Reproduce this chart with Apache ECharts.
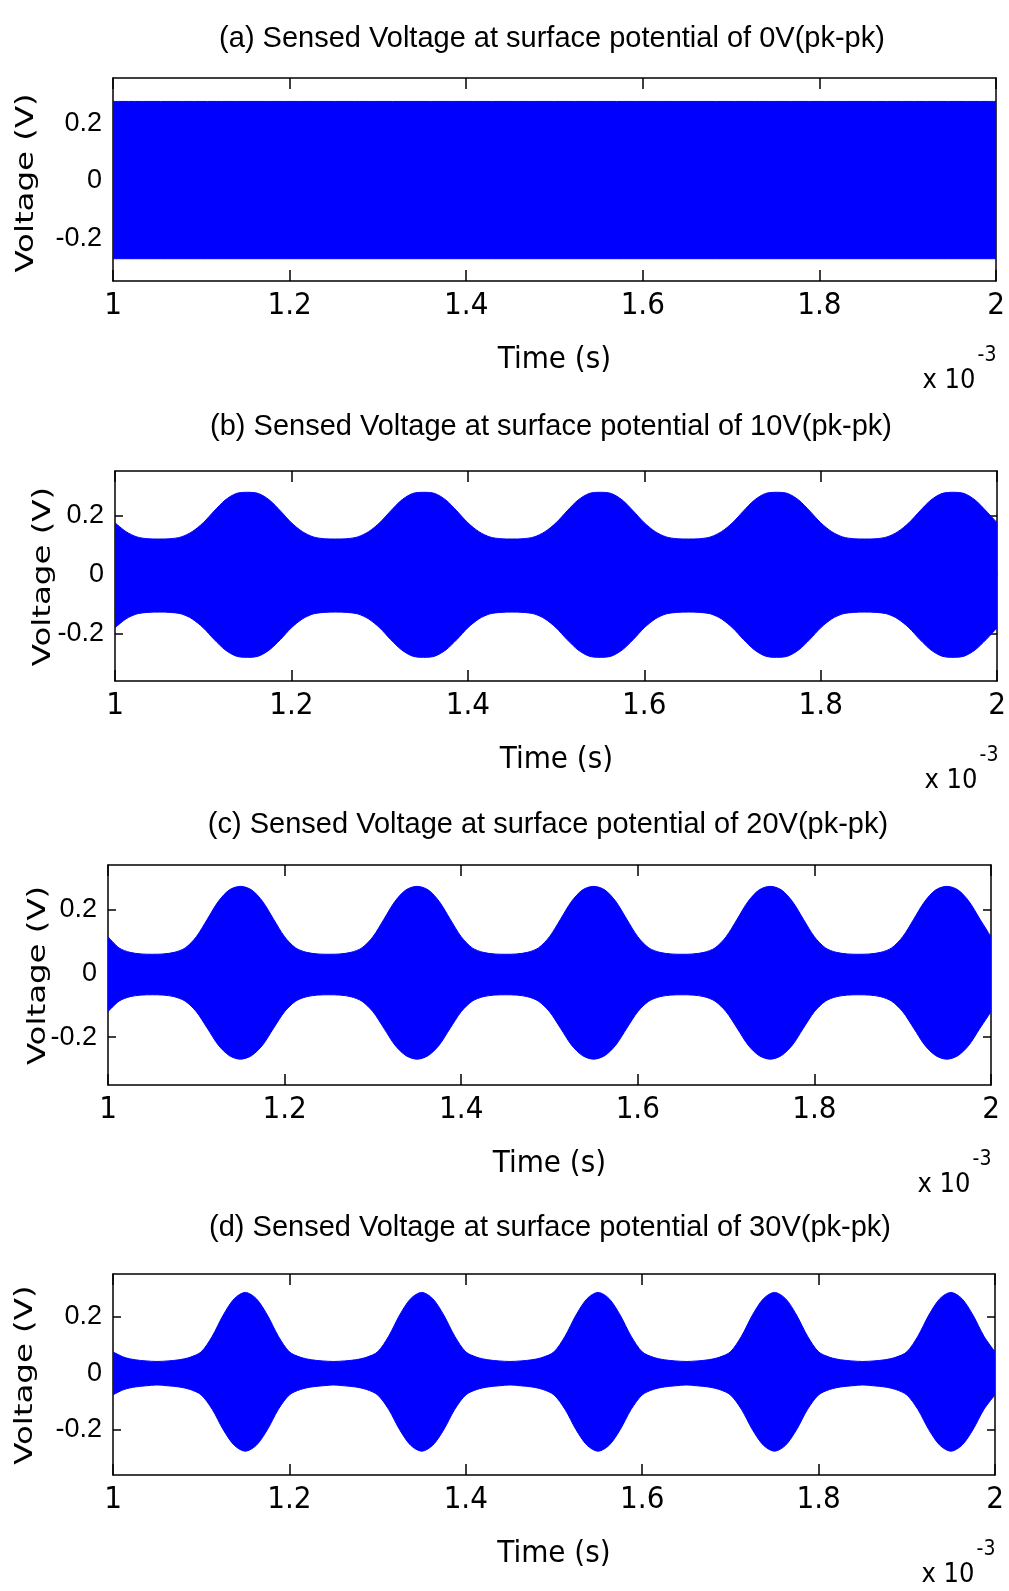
<!DOCTYPE html>
<html>
<head>
<meta charset="utf-8">
<script src="https://cdn.jsdelivr.net/npm/echarts@6.0.0/dist/echarts.min.js"></script>
<style>
  html, body { margin: 0; padding: 0; background: #fff; }
  #main { width: 1009px; height: 1591px; }
</style>
</head>
<body>
<div id="main"></div>
<script>
// time axis in units of 1e-3 s
var timeMs = [
  1, 1.0125, 1.025, 1.0375, 1.05, 1.0625, 1.075, 1.0875, 1.1, 1.1125, 1.125, 1.1375, 1.15, 1.1625, 1.175, 1.1875,
  1.2, 1.2125, 1.225, 1.2375, 1.25, 1.2625, 1.275, 1.2875, 1.3, 1.3125, 1.325, 1.3375, 1.35, 1.3625, 1.375, 1.3875,
  1.4, 1.4125, 1.425, 1.4375, 1.45, 1.4625, 1.475, 1.4875, 1.5, 1.5125, 1.525, 1.5375, 1.55, 1.5625, 1.575, 1.5875,
  1.6, 1.6125, 1.625, 1.6375, 1.65, 1.6625, 1.675, 1.6875, 1.7, 1.7125, 1.725, 1.7375, 1.75, 1.7625, 1.775, 1.7875,
  1.8, 1.8125, 1.825, 1.8375, 1.85, 1.8625, 1.875, 1.8875, 1.9, 1.9125, 1.925, 1.9375, 1.95, 1.9625, 1.975, 1.9875,
  2
];

// (a) 0V: constant envelope
var timeA = [1, 2];
var upperA = [0.278, 0.278];
var lowerA = [-0.272, -0.272];

// (b) 10V
var upperB = [
  0.175, 0.145, 0.127, 0.121, 0.12, 0.121, 0.127, 0.145, 0.175, 0.215, 0.252, 0.274, 0.278, 0.274, 0.252, 0.215,
  0.175, 0.145, 0.127, 0.121, 0.12, 0.121, 0.127, 0.145, 0.175, 0.215, 0.252, 0.274, 0.278, 0.274, 0.252, 0.215,
  0.175, 0.145, 0.127, 0.121, 0.12, 0.121, 0.127, 0.145, 0.175, 0.215, 0.252, 0.274, 0.278, 0.274, 0.252, 0.215,
  0.175, 0.145, 0.127, 0.121, 0.12, 0.121, 0.127, 0.145, 0.175, 0.215, 0.252, 0.274, 0.278, 0.274, 0.252, 0.215,
  0.175, 0.145, 0.127, 0.121, 0.12, 0.121, 0.127, 0.145, 0.175, 0.215, 0.252, 0.274, 0.278, 0.274, 0.252, 0.215,
  0.175
];
var lowerB = [
  -0.18, -0.15, -0.133, -0.128, -0.127, -0.128, -0.133, -0.15, -0.18, -0.22, -0.255, -0.276, -0.28, -0.276, -0.255, -0.22,
  -0.18, -0.15, -0.133, -0.128, -0.127, -0.128, -0.133, -0.15, -0.18, -0.22, -0.255, -0.276, -0.28, -0.276, -0.255, -0.22,
  -0.18, -0.15, -0.133, -0.128, -0.127, -0.128, -0.133, -0.15, -0.18, -0.22, -0.255, -0.276, -0.28, -0.276, -0.255, -0.22,
  -0.18, -0.15, -0.133, -0.128, -0.127, -0.128, -0.133, -0.15, -0.18, -0.22, -0.255, -0.276, -0.28, -0.276, -0.255, -0.22,
  -0.18, -0.15, -0.133, -0.128, -0.127, -0.128, -0.133, -0.15, -0.18, -0.22, -0.255, -0.276, -0.28, -0.276, -0.255, -0.22,
  -0.18
];

// (c) 20V
var upperC = [
  0.115, 0.08, 0.066, 0.061, 0.06, 0.061, 0.066, 0.08, 0.115, 0.17, 0.226, 0.262, 0.273, 0.262, 0.226, 0.17,
  0.115, 0.08, 0.066, 0.061, 0.06, 0.061, 0.066, 0.08, 0.115, 0.17, 0.226, 0.262, 0.273, 0.262, 0.226, 0.17,
  0.115, 0.08, 0.066, 0.061, 0.06, 0.061, 0.066, 0.08, 0.115, 0.17, 0.226, 0.262, 0.273, 0.262, 0.226, 0.17,
  0.115, 0.08, 0.066, 0.061, 0.06, 0.061, 0.066, 0.08, 0.115, 0.17, 0.226, 0.262, 0.273, 0.262, 0.226, 0.17,
  0.115, 0.08, 0.066, 0.061, 0.06, 0.061, 0.066, 0.08, 0.115, 0.17, 0.226, 0.262, 0.273, 0.262, 0.226, 0.17,
  0.115
];
var lowerC = [
  -0.12, -0.087, -0.073, -0.068, -0.067, -0.068, -0.073, -0.087, -0.12, -0.172, -0.225, -0.258, -0.269, -0.258, -0.225, -0.172,
  -0.12, -0.087, -0.073, -0.068, -0.067, -0.068, -0.073, -0.087, -0.12, -0.172, -0.225, -0.258, -0.269, -0.258, -0.225, -0.172,
  -0.12, -0.087, -0.073, -0.068, -0.067, -0.068, -0.073, -0.087, -0.12, -0.172, -0.225, -0.258, -0.269, -0.258, -0.225, -0.172,
  -0.12, -0.087, -0.073, -0.068, -0.067, -0.068, -0.073, -0.087, -0.12, -0.172, -0.225, -0.258, -0.269, -0.258, -0.225, -0.172,
  -0.12, -0.087, -0.073, -0.068, -0.067, -0.068, -0.073, -0.087, -0.12, -0.172, -0.225, -0.258, -0.269, -0.258, -0.225, -0.172,
  -0.12
];

// (d) 30V
var upperD = [
  0.075, 0.056, 0.047, 0.043, 0.041, 0.043, 0.047, 0.056, 0.075, 0.13, 0.205, 0.263, 0.285, 0.263, 0.205, 0.13,
  0.075, 0.056, 0.047, 0.043, 0.041, 0.043, 0.047, 0.056, 0.075, 0.13, 0.205, 0.263, 0.285, 0.263, 0.205, 0.13,
  0.075, 0.056, 0.047, 0.043, 0.041, 0.043, 0.047, 0.056, 0.075, 0.13, 0.205, 0.263, 0.285, 0.263, 0.205, 0.13,
  0.075, 0.056, 0.047, 0.043, 0.041, 0.043, 0.047, 0.056, 0.075, 0.13, 0.205, 0.263, 0.285, 0.263, 0.205, 0.13,
  0.075, 0.056, 0.047, 0.043, 0.041, 0.043, 0.047, 0.056, 0.075, 0.13, 0.205, 0.263, 0.285, 0.263, 0.205, 0.13,
  0.075
];
var lowerD = [
  -0.077, -0.058, -0.049, -0.045, -0.042, -0.045, -0.049, -0.058, -0.077, -0.128, -0.2, -0.255, -0.276, -0.255, -0.2, -0.128,
  -0.077, -0.058, -0.049, -0.045, -0.042, -0.045, -0.049, -0.058, -0.077, -0.128, -0.2, -0.255, -0.276, -0.255, -0.2, -0.128,
  -0.077, -0.058, -0.049, -0.045, -0.042, -0.045, -0.049, -0.058, -0.077, -0.128, -0.2, -0.255, -0.276, -0.255, -0.2, -0.128,
  -0.077, -0.058, -0.049, -0.045, -0.042, -0.045, -0.049, -0.058, -0.077, -0.128, -0.2, -0.255, -0.276, -0.255, -0.2, -0.128,
  -0.077, -0.058, -0.049, -0.045, -0.042, -0.045, -0.049, -0.058, -0.077, -0.128, -0.2, -0.255, -0.276, -0.255, -0.2, -0.128,
  -0.077
];

var xTicks = [1, 1.2, 1.4, 1.6, 1.8, 2];
var yTicks = [-0.2, 0, 0.2];
var titles = [
  '(a) Sensed Voltage at surface potential of 0V(pk-pk)',
  '(b) Sensed Voltage at surface potential of 10V(pk-pk)',
  '(c) Sensed Voltage at surface potential of 20V(pk-pk)',
  '(d) Sensed Voltage at surface potential of 30V(pk-pk)'
];
var xName = 'Time (s)';
var yName = 'Voltage (V)';

var BLUE = '#0000ff';
var NARROW = "'Liberation Sans Narrow', 'DejaVu Sans Condensed', 'Liberation Sans', sans-serif";
var SANS = "'Liberation Sans', Arial, sans-serif";

// layout of the four panels
var panels = [
  { left: 113, top: 78, width: 883, height: 203, yMin: -0.35, yMax: 0.36, titleX: 552, titleY: 39, nameX: 27,
    t: timeA, up: upperA, lo: lowerA },
  { left: 115, top: 471, width: 883, height: 210, yMin: -0.36, yMax: 0.35, titleX: 551, titleY: 427, nameX: 44,
    t: timeMs, up: upperB, lo: lowerB },
  { left: 108, top: 865, width: 883, height: 220, yMin: -0.35, yMax: 0.34, titleX: 548, titleY: 825, nameX: 39,
    t: timeMs, up: upperC, lo: lowerC },
  { left: 113, top: 1274, width: 882, height: 201, yMin: -0.36, yMax: 0.35, titleX: 550, titleY: 1228, nameX: 26,
    t: timeMs, up: upperD, lo: lowerD }
];

function pairs(t, v) {
  return t.map(function (x, i) { return [x, v[i]]; });
}

var chartDom = document.getElementById('main');
var myChart = echarts.init(chartDom, null, { renderer: 'canvas' });

var grid = [], xAxis = [], yAxis = [], series = [], graphic = [];
var lineAxis = { show: true, onZero: false, lineStyle: { color: '#000', width: 1.5 } };

panels.forEach(function (p, i) {
  grid.push({ left: p.left, top: p.top, width: p.width, height: p.height });

  xAxis.push({
    type: 'value', gridIndex: i, min: 1, max: 2, position: 'bottom',
    axisLine: lineAxis,
    axisTick: { inside: true, length: 11, customValues: xTicks, lineStyle: { color: '#000', width: 1.5 } },
    axisLabel: { customValues: xTicks, color: '#000', fontFamily: NARROW, fontSize: 31, margin: 9 },
    splitLine: { show: false }
  });
  xAxis.push({
    type: 'value', gridIndex: i, min: 1, max: 2, position: 'top',
    axisLine: lineAxis,
    axisTick: { inside: true, length: 11, customValues: xTicks, lineStyle: { color: '#000', width: 1.5 } },
    axisLabel: { show: false },
    splitLine: { show: false }
  });
  yAxis.push({
    type: 'value', gridIndex: i, min: p.yMin, max: p.yMax, position: 'left',
    axisLine: lineAxis,
    axisTick: { inside: true, length: 8, customValues: yTicks, lineStyle: { color: '#000', width: 1.5 } },
    axisLabel: { customValues: yTicks, color: '#000', fontFamily: SANS, fontSize: 27, margin: 11 },
    splitLine: { show: false }
  });
  yAxis.push({
    type: 'value', gridIndex: i, min: p.yMin, max: p.yMax, position: 'right',
    axisLine: lineAxis,
    axisTick: { inside: true, length: 8, customValues: yTicks, lineStyle: { color: '#000', width: 1.5 } },
    axisLabel: { show: false },
    splitLine: { show: false }
  });

  [p.up, p.lo].forEach(function (vals, k) {
    series.push({
      type: 'line',
      xAxisIndex: 2 * i, yAxisIndex: 2 * i,
      data: pairs(p.t, vals),
      symbol: 'none',
      smooth: 0.3,
      silent: true,
      lineStyle: { color: BLUE, width: 1 },
      areaStyle: { color: BLUE, opacity: 1, origin: k === 0 ? -0.01 : 0.01 },
      z: 1
    });
  });

  var bottom = p.top + p.height;
  var zeroY = p.top + p.yMax / (p.yMax - p.yMin) * p.height;
  graphic.push({
    type: 'text', x: p.titleX, y: p.titleY,
    style: { text: titles[i], fill: '#000', font: '29px ' + SANS, textAlign: 'center', textVerticalAlign: 'middle' }
  });
  graphic.push({
    type: 'text', x: p.left + p.width / 2, y: bottom + 79,
    style: { text: xName, fill: '#000', font: '31px ' + NARROW, textAlign: 'center', textVerticalAlign: 'middle' }
  });
  graphic.push({
    type: 'text', x: p.left + p.width - 47, y: bottom + 100,
    style: { text: 'x 10', fill: '#000', font: '27px ' + NARROW, textAlign: 'center', textVerticalAlign: 'middle' }
  });
  graphic.push({
    type: 'text', x: p.left + p.width - 9, y: bottom + 75,
    style: { text: '-3', fill: '#000', font: '21px ' + NARROW, textAlign: 'center', textVerticalAlign: 'middle' }
  });
  graphic.push({
    type: 'text', x: p.nameX, y: zeroY + 2, rotation: Math.PI / 2, scaleX: 1.35,
    style: { text: yName, fill: '#000', font: '24px "DejaVu Sans"', textAlign: 'center', textVerticalAlign: 'middle' }
  });
});

var option = {
  backgroundColor: '#fff',
  animation: false,
  grid: grid,
  xAxis: xAxis,
  yAxis: yAxis,
  series: series,
  graphic: graphic
};
option && myChart.setOption(option);
</script>
</body>
</html>
